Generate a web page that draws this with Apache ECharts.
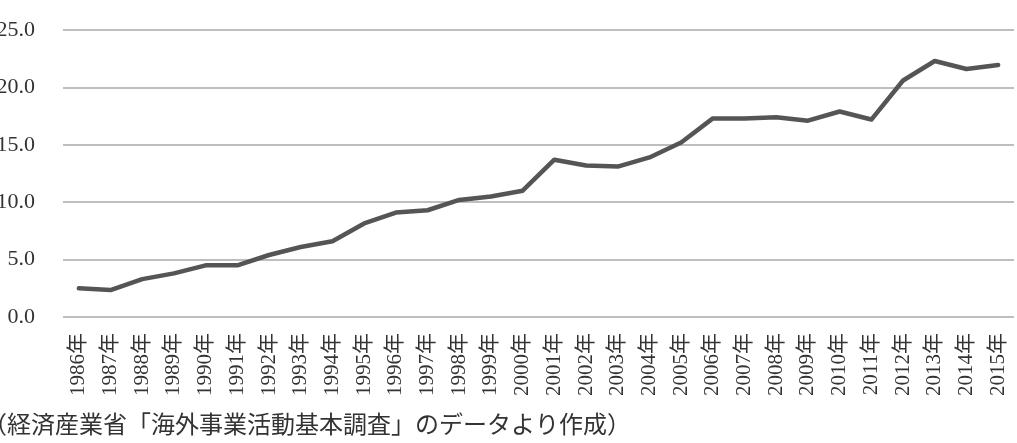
<!DOCTYPE html>
<html>
<head>
<meta charset="utf-8">
<script src="https://cdn.jsdelivr.net/npm/echarts@6/dist/echarts.min.js"></script>
<style>
  html, body { margin: 0; padding: 0; background: #fff; }
  #chart { width: 1017px; height: 443px; }
</style>
</head>
<body>
<div id="chart"></div>
<script>
// 年次
const years = [
  '1986年', '1987年', '1988年', '1989年', '1990年', '1991年', '1992年', '1993年', '1994年', '1995年',
  '1996年', '1997年', '1998年', '1999年', '2000年', '2001年', '2002年', '2003年', '2004年', '2005年',
  '2006年', '2007年', '2008年', '2009年', '2010年', '2011年', '2012年', '2013年', '2014年', '2015年'
];
// 海外生産比率（%）
const ratio = [
  2.5, 2.35, 3.3, 3.8, 4.5, 4.5, 5.4, 6.1, 6.6, 8.15,
  9.1, 9.3, 10.2, 10.5, 11.0, 13.7, 13.2, 13.1, 13.9, 15.2,
  17.3, 17.3, 17.4, 17.1, 17.9, 17.2, 20.6, 22.3, 21.6, 21.95
];
const yMin = 0;
const yMax = 25;
const yStep = 5;
const note = '（経済産業省「海外事業活動基本調査」のデータより作成）';

const serif = '"Liberation Serif", "DejaVu Serif", "Noto Sans CJK JP", serif';

const chart = echarts.init(document.getElementById('chart'));
chart.setOption({
  animation: false,
  grid: { left: 63, right: 3, top: 30, bottom: 126, containLabel: false, outerBoundsMode: 'none' },
  xAxis: {
    type: 'category',
    data: years,
    boundaryGap: true,
    axisLine: { show: false },
    axisTick: { show: false },
    axisLabel: {
      rotate: 90,
      interval: 0,
      margin: 16,
      color: '#333',
      fontSize: 21,
      fontFamily: serif
    }
  },
  yAxis: {
    type: 'value',
    min: yMin,
    max: yMax,
    interval: yStep,
    axisLine: { show: false },
    axisTick: { show: false },
    axisLabel: {
      margin: 28,
      color: '#333',
      fontSize: 22,
      fontFamily: serif,
      formatter: (v) => v.toFixed(1)
    },
    splitLine: { lineStyle: { color: '#a8a8a8', width: 1.5 } }
  },
  series: [{
    type: 'line',
    data: ratio,
    symbol: 'none',
    lineStyle: { color: '#555555', width: 4.5, join: 'round', cap: 'round' }
  }],
  graphic: [{
    type: 'text',
    left: -17,
    top: 412,
    style: {
      text: note,
      fill: '#333',
      font: '24px "Noto Sans CJK JP", sans-serif'
    }
  }]
});
</script>
</body>
</html>
